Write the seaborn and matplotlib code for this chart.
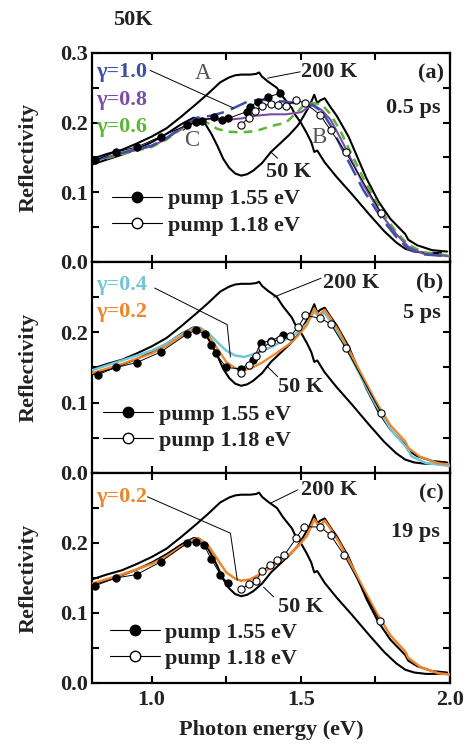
import numpy as np
import matplotlib
matplotlib.use("Agg")
import matplotlib.pyplot as plt
from matplotlib.lines import Line2D
from matplotlib.ticker import MultipleLocator
import seaborn as sns

# reference spectra (same in all panels)
e_200k = [0.80, 0.85, 0.90, 0.95, 1.00, 1.05, 1.10, 1.15, 1.19, 1.23, 1.26, 1.28, 1.30, 1.33, 1.35, 1.36, 1.37,
          1.39, 1.42, 1.44, 1.47, 1.48, 1.50, 1.52, 1.535, 1.545, 1.555, 1.58, 1.62, 1.67, 1.73, 1.78, 1.82, 1.85,
          1.88, 1.92, 1.97]
r_200k = [0.148, 0.155, 0.161, 0.170, 0.180, 0.192, 0.209, 0.227, 0.242, 0.258, 0.265, 0.268, 0.269, 0.269, 0.270,
          0.272, 0.266, 0.259, 0.250, 0.237, 0.221, 0.212, 0.200, 0.185, 0.172, 0.158, 0.160, 0.143, 0.122, 0.098,
          0.068, 0.044, 0.028, 0.019, 0.015, 0.013, 0.013]

e_50k = [0.80, 0.85, 0.90, 0.95, 1.00, 1.05, 1.10, 1.14, 1.16, 1.18, 1.20, 1.22, 1.24, 1.26, 1.28, 1.30, 1.32, 1.34,
         1.37, 1.40, 1.43, 1.46, 1.49, 1.51, 1.53, 1.545, 1.555, 1.565, 1.58, 1.60, 1.62, 1.66, 1.69, 1.72, 1.76,
         1.80, 1.85, 1.86, 1.89, 1.94, 1.99]
r_50k = [0.140, 0.147, 0.154, 0.162, 0.172, 0.184, 0.198, 0.207, 0.206, 0.198, 0.184, 0.167, 0.148, 0.135, 0.127,
         0.124, 0.126, 0.131, 0.142, 0.158, 0.170, 0.182, 0.196, 0.210, 0.225, 0.240, 0.228, 0.232, 0.235, 0.222,
         0.210, 0.180, 0.150, 0.120, 0.087, 0.062, 0.040, 0.032, 0.024, 0.017, 0.015]

# panel (a) model curves
e_g10 = [0.80, 0.90, 1.00, 1.05, 1.10, 1.15, 1.20, 1.25, 1.28, 1.32, 1.36, 1.40, 1.45, 1.50, 1.54, 1.57, 1.60,
         1.635, 1.67, 1.71, 1.77, 1.82, 1.86, 1.91, 2.00]
r_g10 = [0.145, 0.157, 0.167, 0.178, 0.193, 0.207, 0.210, 0.216, 0.222, 0.230, 0.233, 0.232, 0.230, 0.227, 0.225,
         0.216, 0.196, 0.165, 0.136, 0.103, 0.063, 0.036, 0.019, 0.011, 0.008]
e_g08 = [0.80, 0.90, 1.00, 1.05, 1.10, 1.15, 1.20, 1.25, 1.30, 1.35, 1.40, 1.45, 1.50, 1.54, 1.57, 1.60, 1.635,
         1.67, 1.71, 1.77, 1.82, 1.86, 1.91, 2.00]
r_g08 = [0.145, 0.156, 0.166, 0.177, 0.192, 0.206, 0.205, 0.204, 0.206, 0.210, 0.212, 0.212, 0.215, 0.226, 0.218,
         0.204, 0.176, 0.146, 0.111, 0.068, 0.040, 0.022, 0.012, 0.008]
e_g06 = [0.80, 0.90, 1.00, 1.05, 1.10, 1.15, 1.19, 1.22, 1.26, 1.30, 1.35, 1.40, 1.45, 1.48, 1.51, 1.54, 1.57, 1.60,
         1.635, 1.67, 1.71, 1.77, 1.82, 1.86, 1.91, 2.00]
r_g06 = [0.143, 0.155, 0.165, 0.176, 0.191, 0.206, 0.199, 0.191, 0.187, 0.186, 0.188, 0.195, 0.200, 0.212, 0.225,
         0.228, 0.226, 0.212, 0.186, 0.155, 0.120, 0.073, 0.043, 0.025, 0.014, 0.009]

# panel (b)/(c) model curves
e_g04 = [0.80, 0.90, 1.00, 1.05, 1.10, 1.14, 1.16, 1.19, 1.22, 1.25, 1.28, 1.31, 1.35, 1.40, 1.45, 1.49, 1.52, 1.545,
         1.56, 1.58, 1.60, 1.63, 1.67, 1.71, 1.75, 1.80, 1.85, 1.86, 1.87, 1.92, 2.00]
r_g04 = [0.146, 0.160, 0.174, 0.184, 0.197, 0.206, 0.207, 0.199, 0.186, 0.174, 0.167, 0.165, 0.170, 0.179, 0.190,
         0.200, 0.212, 0.230, 0.222, 0.228, 0.215, 0.195, 0.163, 0.130, 0.098, 0.063, 0.038, 0.033, 0.024, 0.014,
         0.010]
e_g02 = [0.80, 0.90, 1.00, 1.05, 1.10, 1.14, 1.16, 1.19, 1.22, 1.25, 1.28, 1.30, 1.33, 1.37, 1.42, 1.46, 1.49, 1.52,
         1.545, 1.56, 1.58, 1.60, 1.63, 1.67, 1.71, 1.75, 1.80, 1.85, 1.86, 1.90, 1.96, 2.00]
r_g02 = [0.142, 0.155, 0.170, 0.181, 0.195, 0.205, 0.206, 0.196, 0.177, 0.158, 0.149, 0.146, 0.148, 0.157, 0.171,
         0.183, 0.195, 0.210, 0.234, 0.224, 0.232, 0.220, 0.200, 0.168, 0.135, 0.103, 0.068, 0.045, 0.036, 0.023,
         0.014, 0.012]

# measured points, pump 1.55 eV (filled) and 1.18 eV (open)
e_fill_a = [0.81, 0.88, 0.95, 1.03, 1.12, 1.15, 1.17, 1.21, 1.235, 1.255, 1.32, 1.33, 1.355, 1.39, 1.43]
r_fill_a = [0.146, 0.158, 0.165, 0.180, 0.197, 0.201, 0.203, 0.208, 0.204, 0.206, 0.216, 0.223, 0.230, 0.237, 0.242]
e_open_a = [1.30, 1.325, 1.345, 1.37, 1.40, 1.425, 1.45, 1.485, 1.515, 1.565, 1.60, 1.65, 1.77]
r_open_a = [0.197, 0.207, 0.217, 0.224, 0.227, 0.226, 0.224, 0.232, 0.228, 0.211, 0.189, 0.158, 0.070]

e_fill_b = [0.82, 0.88, 0.95, 1.03, 1.12, 1.15, 1.18, 1.20, 1.215, 1.25, 1.30, 1.34, 1.365, 1.40, 1.44]
r_fill_b = [0.140, 0.150, 0.157, 0.172, 0.198, 0.203, 0.197, 0.182, 0.170, 0.150, 0.148, 0.160, 0.185, 0.188, 0.196]
e_open_b = [1.30, 1.325, 1.35, 1.37, 1.40, 1.43, 1.465, 1.49, 1.515, 1.565, 1.60, 1.65, 1.77]
r_open_b = [0.142, 0.154, 0.166, 0.178, 0.186, 0.190, 0.195, 0.207, 0.224, 0.220, 0.212, 0.178, 0.085]

e_fill_c = [0.81, 0.88, 0.95, 1.03, 1.12, 1.15, 1.175, 1.20, 1.23, 1.255]
r_fill_c = [0.139, 0.150, 0.155, 0.173, 0.200, 0.202, 0.197, 0.177, 0.155, 0.143]
e_open_c = [1.30, 1.325, 1.35, 1.37, 1.395, 1.42, 1.445, 1.485, 1.51, 1.565, 1.60, 1.645, 1.765]
r_open_c = [0.134, 0.141, 0.146, 0.160, 0.168, 0.176, 0.183, 0.207, 0.223, 0.223, 0.211, 0.183, 0.088]

panel_tags = ["(a)", "(b)", "(c)"]
delays = ["0.5 ps", "5 ps", "19 ps"]

c_blue = "#3f4fa3"
c_purple = "#7a4ea8"
c_green = "#5cb534"
c_cyan = "#74c6d6"
c_orange = "#f08428"
txt = "#222222"

sns.set_theme(style="ticks")
plt.rcParams["font.family"] = ["Liberation Serif", "DejaVu Serif"]
plt.rcParams["font.weight"] = "bold"
plt.rcParams["axes.labelweight"] = "bold"
plt.rcParams["font.size"] = 16

fig = plt.figure(figsize=(4.66, 7.47), dpi=100)
W, H = 466, 747
boxes = [(53, 262), (262, 473), (473, 683)]
axes = []
for top, bot in boxes:
    axes.append(fig.add_axes([92 / W, 1 - bot / H, 358 / W, (bot - top) / H]))


def data_pts(ax, e, r, face):
    sns.lineplot(x=e, y=r, ax=ax, color="black", lw=0.7, sort=False, estimator=None,
                 marker="o", markersize=5.2, markerfacecolor=face, markeredgecolor="black",
                 markeredgewidth=0.8, zorder=5)


def refs(ax):
    sns.lineplot(x=e_200k, y=r_200k, ax=ax, color="black", lw=1.5, sort=False, estimator=None, zorder=3)
    sns.lineplot(x=e_50k, y=r_50k, ax=ax, color="black", lw=1.5, sort=False, estimator=None, zorder=3)


def note(ax, pts):
    xs, ys = zip(*pts)
    ax.plot(xs, ys, color="black", lw=0.7, zorder=6)


# panel (a)
ax = axes[0]
refs(ax)
sns.lineplot(x=e_g06, y=r_g06, ax=ax, color=c_green, lw=1.8, sort=False, estimator=None,
             linestyle=(0, (3.5, 2.5)), zorder=4)
sns.lineplot(x=e_g08, y=r_g08, ax=ax, color=c_purple, lw=1.5, sort=False, estimator=None, zorder=4)
sns.lineplot(x=e_g10, y=r_g10, ax=ax, color=c_blue, lw=1.8, sort=False, estimator=None,
             linestyle=(0, (7, 3)), zorder=4)
data_pts(ax, e_fill_a, r_fill_a, "black")
data_pts(ax, e_open_a, r_open_a, "white")
ax.text(0.814, 0.273, "γ=1.0", color=c_blue, va="center", ha="left", fontsize=16)
ax.text(0.814, 0.232, "γ=0.8", color=c_purple, va="center", ha="left", fontsize=16)
ax.text(0.814, 0.194, "γ=0.6", color=c_green, va="center", ha="left", fontsize=16)
ax.text(1.172, 0.271, "A", color="#555555", weight="normal", ha="center", va="center", fontsize=16.5)
ax.text(1.561, 0.179, "B", color="#555555", weight="normal", ha="center", va="center", fontsize=16.5)
ax.text(1.135, 0.175, "C", color="#555555", weight="normal", ha="center", va="center", fontsize=16.5)
ax.text(1.50, 0.273, "200 K", color=txt, va="center", ha="left")
ax.text(1.382, 0.129, "50 K", color=txt, va="center", ha="left")
note(ax, [(0.995, 0.275), (1.274, 0.221)])
note(ax, [(1.498, 0.273), (1.389, 0.264)])
note(ax, [(1.422, 0.149), (1.399, 0.158)])
note(ax, [(1.105, 0.189), (1.145, 0.201)])

# panel (b)
ax = axes[1]
refs(ax)
sns.lineplot(x=e_g04, y=r_g04, ax=ax, color=c_cyan, lw=1.8, sort=False, estimator=None, zorder=4)
sns.lineplot(x=e_g02, y=r_g02, ax=ax, color=c_orange, lw=1.6, sort=False, estimator=None, zorder=4)
data_pts(ax, e_fill_b, r_fill_b, "black")
data_pts(ax, e_open_b, r_open_b, "white")
ax.text(0.814, 0.267, "γ=0.4", color=c_cyan, va="center", ha="left")
ax.text(0.814, 0.229, "γ=0.2", color=c_orange, va="center", ha="left")
ax.text(1.574, 0.270, "200 K", color=txt, va="center", ha="left")
ax.text(1.422, 0.122, "50 K", color=txt, va="center", ha="left")
note(ax, [(1.010, 0.263), (1.253, 0.211), (1.264, 0.165)])
note(ax, [(1.568, 0.277), (1.409, 0.250)])
note(ax, [(1.422, 0.137), (1.389, 0.151)])

# panel (c)
ax = axes[2]
refs(ax)
sns.lineplot(x=e_g02, y=r_g02, ax=ax, color=c_orange, lw=1.8, sort=False, estimator=None, zorder=4)
data_pts(ax, e_fill_c, r_fill_c, "black")
data_pts(ax, e_open_c, r_open_c, "white")
ax.text(0.814, 0.266, "γ=0.2", color=c_orange, va="center", ha="left")
ax.text(1.50, 0.276, "200 K", color=txt, va="center", ha="left")
ax.text(1.422, 0.109, "50 K", color=txt, va="center", ha="left")
note(ax, [(0.986, 0.266), (1.264, 0.214), (1.287, 0.147)])
note(ax, [(1.49, 0.276), (1.399, 0.257)])
note(ax, [(1.409, 0.123), (1.375, 0.137)])

legend_pos = [(0.056, 0.35), (0.031, 0.327), (0.050, 0.29)]
delay_y = [0.737, 0.758, 0.719]
for i, ax in enumerate(axes):
    ax.set_xlim(0.8, 2.0)
    ax.set_ylim(0.0, 0.3)
    ax.xaxis.set_major_locator(MultipleLocator(0.5))
    ax.xaxis.set_minor_locator(MultipleLocator(0.25))
    ax.yaxis.set_major_locator(MultipleLocator(0.1))
    ax.yaxis.set_minor_locator(MultipleLocator(0.05))
    top_lbl = i == 0
    ax.yaxis.set_major_formatter(
        plt.FuncFormatter(lambda v, p, t=top_lbl: "" if (v > 0.25 and not t) else f"{v:.1f}"))
    ax.xaxis.set_major_formatter(plt.FuncFormatter(lambda v, p: f"{v:.1f}"))
    ax.tick_params(which="both", direction="in", top=True, right=True, length=5, width=1.5,
                   colors="black", labelcolor=txt, labelsize=16)
    ax.tick_params(axis="y", pad=3)
    ax.tick_params(axis="x", pad=5)
    for s in ax.spines.values():
        s.set_linewidth(1.6)
        s.set_color("black")
    if i < 2:
        ax.tick_params(labelbottom=False)
    ax.set_ylabel("Reflectivity", color=txt, fontsize=16)
    ax.yaxis.set_label_coords(-0.148, 0.5)
    ax.text(0.982, 0.904, panel_tags[i], transform=ax.transAxes, ha="right", va="center", color=txt)
    ax.text(0.973, delay_y[i], delays[i], transform=ax.transAxes, ha="right", va="center", color=txt)
    handles = [
        Line2D([], [], color="black", lw=0.8, marker="o", markersize=7.5, markerfacecolor="black",
               markeredgecolor="black"),
        Line2D([], [], color="black", lw=0.8, marker="o", markersize=7.5, markerfacecolor="white",
               markeredgecolor="black"),
    ]
    leg = ax.legend(handles, ["pump 1.55 eV", "pump 1.18 eV"], loc="upper left",
                    bbox_to_anchor=legend_pos[i], frameon=False, borderpad=0, borderaxespad=0,
                    handlelength=2.25, handletextpad=0.25, labelspacing=0.25, fontsize=16)
    for t in leg.get_texts():
        t.set_color(txt)

axes[2].set_xlabel("Photon energy (eV)", color=txt, fontsize=16)
axes[2].xaxis.set_label_coords(0.5, -0.175)

fig.text(113 / W, 1 - 20 / H, "50K", ha="left", va="center", color=txt, fontsize=16)

fig.savefig("out.png", dpi=100)
